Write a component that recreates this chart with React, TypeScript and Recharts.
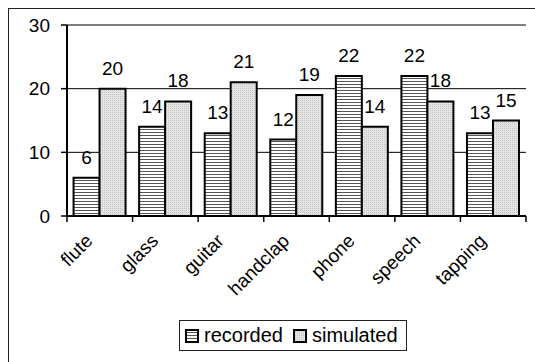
import React from 'react';
import { BarChart, Bar, XAxis, YAxis, CartesianGrid, LabelList, ReferenceLine } from 'recharts';

const categories = ['flute', 'glass', 'guitar', 'handclap', 'phone', 'speech', 'tapping'];
const recorded = [6, 14, 13, 12, 22, 22, 13];
const simulated = [20, 18, 21, 19, 14, 18, 15];
const yTicks = [0, 10, 20, 30];
const seriesNames = ['recorded', 'simulated'];
const patternIds = ['stripes', 'dots'];

const data = categories.map((c, i) => ({ name: c, recorded: recorded[i], simulated: simulated[i] }));

const FONT = '"Liberation Sans", Arial, sans-serif';
const CHART_W = 535;
const CHART_H = 362;
const MARGIN = { top: 25, right: 9, bottom: 0, left: 0 };
const YAXIS_W = 67;
const XAXIS_H = 146;
const PLOT_LEFT = MARGIN.left + YAXIS_W;
const PLOT_RIGHT = CHART_W - MARGIN.right;
const PLOT_BOTTOM = CHART_H - MARGIN.bottom - XAXIS_H;
const BAND = (PLOT_RIGHT - PLOT_LEFT) / categories.length;

const XTick = (props: any) => {
  const { x, y, payload } = props;
  const ax = x - 6;
  const ay = y + 26;
  return (
    <text
      x={ax}
      y={ay}
      textAnchor="end"
      transform={`rotate(-45 ${ax} ${ay})`}
      fontSize={19}
      fontFamily={FONT}
      fill="#000"
    >
      {payload.value}
    </text>
  );
};

const Patterns = () => (
  <svg width={0} height={0} style={{ position: 'absolute' }}>
    <defs>
      <pattern id="stripes" width={4} height={3} patternUnits="userSpaceOnUse">
        <rect width={4} height={3} fill="#fff" />
        <rect y={0} width={4} height={1} fill="#555" />
      </pattern>
      <pattern id="dots" width={2} height={2} patternUnits="userSpaceOnUse">
        <rect width={2} height={2} fill="#e4e4e4" />
        <rect width={1} height={1} fill="#c4c4c4" />
      </pattern>
    </defs>
  </svg>
);

const BoundaryTicks = () => (
  <svg
    width={CHART_W}
    height={CHART_H}
    style={{ position: 'absolute', left: 0, top: 0, pointerEvents: 'none' }}
  >
    {categories.concat(['end']).map((c, i) => {
      const x = PLOT_LEFT + i * BAND;
      return <line key={c + i} x1={x} x2={x} y1={PLOT_BOTTOM} y2={PLOT_BOTTOM + 6} stroke="#000" strokeWidth={1.5} />;
    })}
  </svg>
);

export default function App() {
  return (
    <div style={{ position: 'fixed', left: 0, top: 0, width: CHART_W, height: CHART_H, background: '#fff', fontFamily: FONT }}>
      <Patterns />
      <div
        style={{
          position: 'absolute',
          left: 8,
          top: 8,
          width: 540,
          height: 360,
          borderLeft: '1.5px solid #222',
          borderTop: '1.5px solid #222',
        }}
      />
      <div style={{ position: 'absolute', left: 0, top: 0 }}>
        <BarChart
          width={CHART_W}
          height={CHART_H}
          data={data}
          margin={MARGIN}
          barCategoryGap="10%"
          barGap={0}
        >
          <CartesianGrid vertical={false} stroke="#000" strokeWidth={1} />
          <XAxis
            dataKey="name"
            height={XAXIS_H}
            interval={0}
            tickLine={false}
            tickSize={0}
            tickMargin={0}
            axisLine={false}
            tick={<XTick />}
          />
          <XAxis xAxisId="top" orientation="top" dataKey="name" height={0} tick={false} tickLine={false} axisLine={{ stroke: '#000', strokeWidth: 2 }} />
          <YAxis
            width={YAXIS_W}
            domain={[0, 30]}
            ticks={yTicks}
            interval={0}
            tickSize={6}
            tickMargin={11}
            tickLine={{ stroke: '#000', strokeWidth: 1.5 }}
            axisLine={{ stroke: '#000', strokeWidth: 2 }}
            tick={{ fontSize: 19, fill: '#000', fontFamily: FONT }}
          />
          <YAxis yAxisId="r" orientation="right" width={0} domain={[0, 30]} tick={false} tickLine={false} axisLine={{ stroke: '#000', strokeWidth: 2 }} />
          {seriesNames.map((s, i) => (
            <Bar key={s} dataKey={s} fill={`url(#${patternIds[i]})`} stroke="#000" strokeWidth={2} isAnimationActive={false}>
              <LabelList dataKey={s} position="top" offset={14} fontSize={19} fill="#000" fontFamily={FONT} />
            </Bar>
          ))}
          <ReferenceLine y={0} stroke="#000" strokeWidth={2} />
        </BarChart>
      </div>
      <BoundaryTicks />
      <div
        style={{
          position: 'absolute',
          left: 179,
          top: 320,
          width: 228,
          height: 31,
          border: '1px solid #222',
          boxSizing: 'border-box',
          display: 'flex',
          alignItems: 'center',
          paddingLeft: 5,
          fontSize: 20,
          color: '#000',
        }}
      >
        {seriesNames.map((s, i) => (
          <div key={s} style={{ display: 'flex', alignItems: 'center', marginRight: i === 0 ? 10 : 0 }}>
            <svg width={14} height={14} style={{ marginRight: 5 }}>
              <rect x={1} y={1} width={12} height={12} fill={`url(#${patternIds[i]})`} stroke="#000" strokeWidth={2} />
            </svg>
            <span>{s}</span>
          </div>
        ))}
      </div>
    </div>
  );
}
